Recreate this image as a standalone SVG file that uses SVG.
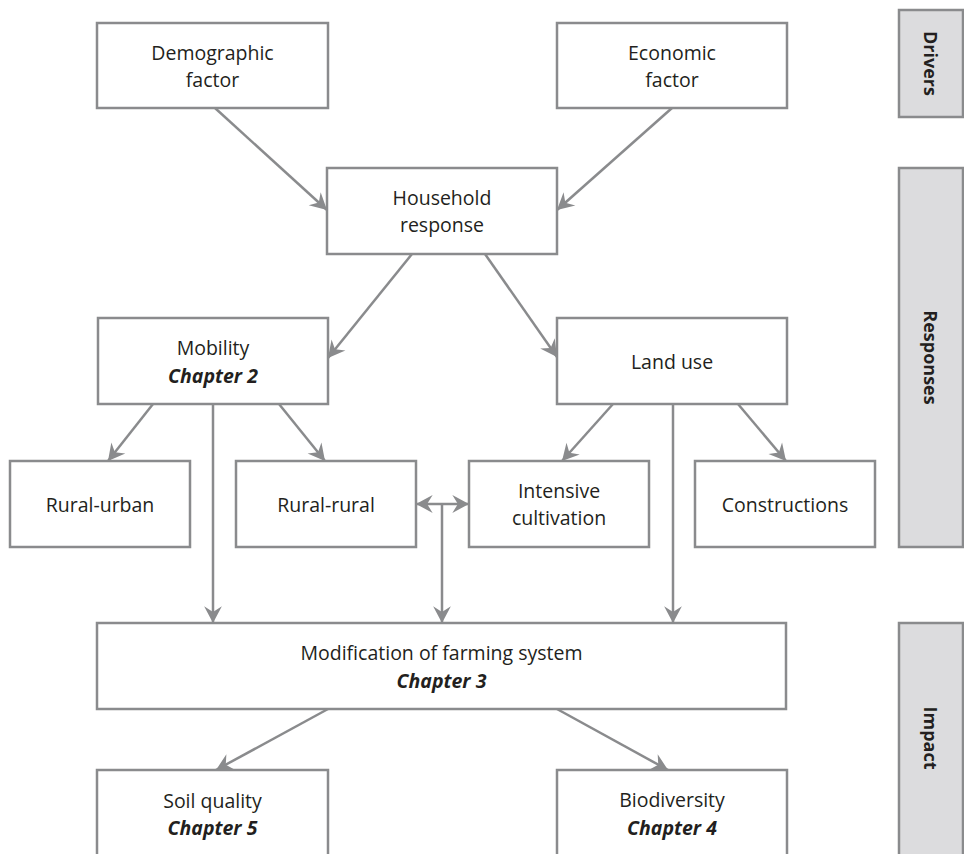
<svg xmlns="http://www.w3.org/2000/svg" width="964" height="854" viewBox="0 0 964 854">
<style>
.box{fill:#fff;stroke:#8a8b8d;stroke-width:2.5}
.side{fill:#dcdcde;stroke:#8a8b8d;stroke-width:2.5}
.t{font-family:"Open Sans","Liberation Sans",sans-serif;font-size:19.5px;fill:#231f20;text-anchor:middle}
.c{font-style:italic;font-weight:bold}
.s{font-family:"Open Sans","Liberation Sans",sans-serif;font-size:18px;font-weight:bold;fill:#231f20;text-anchor:middle}
.ln{stroke:#8a8b8d;stroke-width:2.5;fill:none;marker-end:url(#ah)}
</style>
<defs>
<marker id="ah" markerUnits="userSpaceOnUse" markerWidth="20" markerHeight="20" viewBox="-16 -9 18 18" refX="0" refY="0" orient="auto-start-reverse">
<path d="M0,0 L-15,-8 L-10,0 L-15,8 Z" fill="#8a8b8d"/>
</marker>
</defs>
<rect width="964" height="854" fill="#fff"/>
<g id="panel-drivers"><rect class="side" x="899" y="10" width="64" height="107"/><text class="s" transform="translate(924,63.5) rotate(90)">Drivers</text></g>
<g id="panel-responses"><rect class="side" x="899" y="168" width="64" height="379"/><text class="s" transform="translate(924,357.5) rotate(90)">Responses</text></g>
<g id="panel-impact"><rect class="side" x="899" y="623" width="64" height="240"/><text class="s" transform="translate(924,738) rotate(90)">Impact</text></g>
<g id="connectors">
<line class="ln" x1="215" y1="108" x2="327" y2="210"/>
<line class="ln" x1="672" y1="108" x2="557" y2="210"/>
<line class="ln" x1="412" y1="254" x2="328" y2="358"/>
<line class="ln" x1="485" y1="254" x2="557" y2="357"/>
<line class="ln" x1="153" y1="404" x2="108" y2="461"/>
<line class="ln" x1="279" y1="404" x2="325" y2="461"/>
<line class="ln" x1="613" y1="404" x2="562" y2="461"/>
<line class="ln" x1="738" y1="404" x2="786" y2="461"/>
<line class="ln" x1="213" y1="404" x2="213" y2="623"/>
<line class="ln" x1="673" y1="404" x2="673" y2="623"/>
<line class="ln" x1="416" y1="504" x2="469" y2="504" style="marker-start:url(#ah)"/>
<line class="ln" x1="442" y1="504" x2="442" y2="623"/>
<line class="ln" x1="328" y1="709" x2="216" y2="770"/>
<line class="ln" x1="557" y1="709" x2="668" y2="770"/>
</g>
<g id="demographic"><rect class="box" x="97" y="23" width="231" height="85"/><text class="t" x="212.5" y="60">Demographic</text><text class="t" x="212.5" y="87">factor</text></g>
<g id="economic"><rect class="box" x="557" y="23" width="230" height="85"/><text class="t" x="672" y="60">Economic</text><text class="t" x="672" y="87">factor</text></g>
<g id="household"><rect class="box" x="327" y="168" width="230" height="86"/><text class="t" x="442" y="205">Household</text><text class="t" x="442" y="232">response</text></g>
<g id="mobility"><rect class="box" x="98" y="318" width="230" height="86"/><text class="t" x="213" y="355">Mobility</text><text class="t c" x="213" y="383">Chapter 2</text></g>
<g id="landuse"><rect class="box" x="557" y="318" width="230" height="86"/><text class="t" x="672" y="369">Land use</text></g>
<g id="rural-urban"><rect class="box" x="10" y="461" width="180" height="86"/><text class="t" x="100" y="512">Rural-urban</text></g>
<g id="rural-rural"><rect class="box" x="236" y="461" width="180" height="86"/><text class="t" x="326" y="512">Rural-rural</text></g>
<g id="intensive"><rect class="box" x="469" y="461" width="180" height="86"/><text class="t" x="559" y="498">Intensive</text><text class="t" x="559" y="525">cultivation</text></g>
<g id="constructions"><rect class="box" x="695" y="461" width="180" height="86"/><text class="t" x="785" y="512">Constructions</text></g>
<g id="modification"><rect class="box" x="97" y="623" width="689" height="86"/><text class="t" x="441.5" y="660">Modification of farming system</text><text class="t c" x="441.5" y="688">Chapter 3</text></g>
<g id="soil"><rect class="box" x="97" y="770" width="231" height="95"/><text class="t" x="212.5" y="808">Soil quality</text><text class="t c" x="212.5" y="835">Chapter 5</text></g>
<g id="biodiversity"><rect class="box" x="557" y="770" width="230" height="95"/><text class="t" x="672" y="807">Biodiversity</text><text class="t c" x="672" y="835">Chapter 4</text></g>
</svg>
